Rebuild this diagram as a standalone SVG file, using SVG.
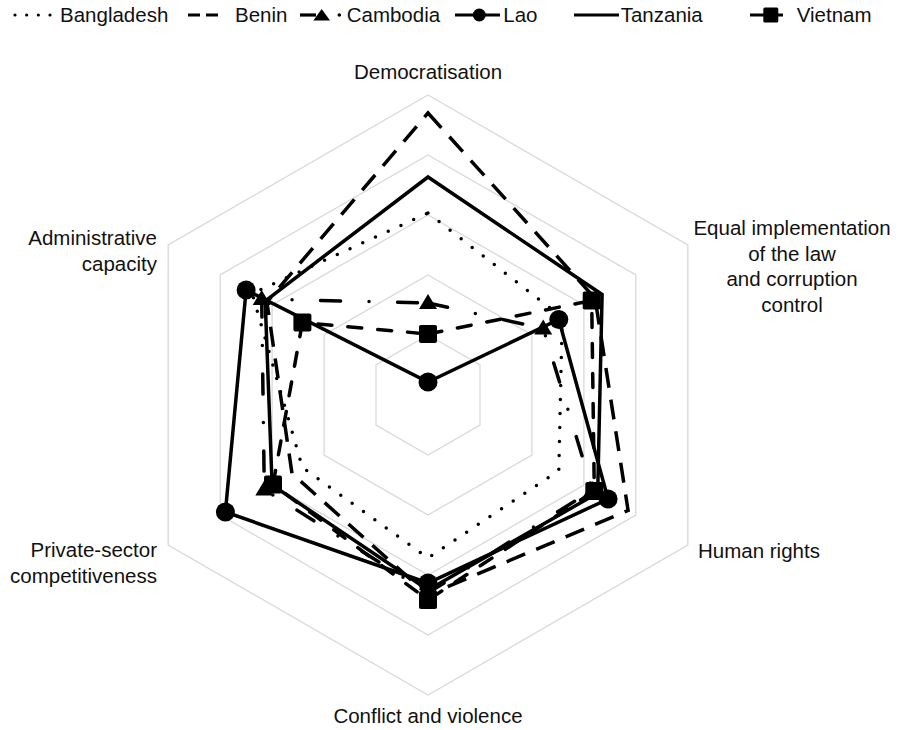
<svg xmlns="http://www.w3.org/2000/svg" xmlns:xlink="http://www.w3.org/1999/xlink" width="901" height="730" viewBox="0 0 901 730">
<style>
text{font-family:"Liberation Sans",Arial,Helvetica,sans-serif;font-size:20.5px;fill:#111}
.grid{fill:none;stroke:#d9d9d9;stroke-width:1.3}
.s{fill:none;stroke:#000;stroke-width:3.5;stroke-linejoin:miter;stroke-miterlimit:10}
.dot{stroke-dasharray:0 14;stroke-linecap:round}
.dash{stroke-dasharray:20 12}
.dashdot{stroke-dasharray:20 28.5 0 28.5;stroke-linecap:round}
.vdash{stroke-dasharray:14 16;stroke-linecap:round}
.mk{fill:#000;stroke:none}
.lg{fill:none;stroke:#000;stroke-width:3.2}
</style>
<defs>
<circle id="mc" r="9.5" class="mk"/>
<rect id="ms" x="-9" y="-9" width="18" height="18" rx="2" class="mk"/>
<path id="mt" d="M0,-9 L9,6 L-9,6 Z" class="mk"/>
</defs>
<g id="grid">
<polygon class="grid" points="428,335 480,365 480,425 428,455 376,425 376,365"/>
<polygon class="grid" points="428,275 531.9,335 531.9,455 428,515 324.1,455 324.1,335"/>
<polygon class="grid" points="428,215 583.9,305 583.9,485 428,575 272.1,485 272.1,305"/>
<polygon class="grid" points="428,155 635.8,275 635.8,515 428,635 220.2,515 220.2,275"/>
<polygon class="grid" points="428,95 687.8,245 687.8,545 428,695 168.2,545 168.2,245"/>
</g>
<g id="axis-labels">
<text x="428" y="79" text-anchor="middle">Democratisation</text>
<text x="792" y="235" text-anchor="middle">Equal implementation</text>
<text x="792" y="260.5" text-anchor="middle">of the law</text>
<text x="792" y="286" text-anchor="middle">and corruption</text>
<text x="792" y="311.5" text-anchor="middle">control</text>
<text x="698" y="558">Human rights</text>
<text x="428" y="723" text-anchor="middle">Conflict and violence</text>
<text x="157" y="557" text-anchor="end">Private-sector</text>
<text x="157" y="583" text-anchor="end">competitiveness</text>
<text x="157" y="245" text-anchor="end">Administrative</text>
<text x="157" y="270.5" text-anchor="end">capacity</text>
</g>
<g id="series">
<g id="bangladesh">
<polygon class="s dot" points="428,213 562.2,317.5 558.8,470.5 428,558 302.4,467.5 252.2,293.5"/>
</g>
<g id="benin">
<polygon class="s dash" points="428,113 595.1,298.5 628.1,510.5 428,595 292,473.5 266.9,302"/>
</g>
<g id="cambodia">
<polygon class="s dashdot" points="428,303 543.2,328.5 592.5,490 428,593 264.3,489.5 261.7,299"/>
<use xlink:href="#mt" x="428" y="303"/>
<use xlink:href="#mt" x="543.2" y="328.5"/>
<use xlink:href="#mt" x="592.5" y="490"/>
<use xlink:href="#mt" x="428" y="593"/>
<use xlink:href="#mt" x="264.3" y="489.5"/>
<use xlink:href="#mt" x="261.7" y="299"/>
</g>
<g id="lao">
<polygon class="s" points="428,382 558.8,319.5 608.1,499 428,583 225.4,512 246.1,290"/>
<use xlink:href="#mc" x="428" y="382"/>
<use xlink:href="#mc" x="558.8" y="319.5"/>
<use xlink:href="#mc" x="608.1" y="499"/>
<use xlink:href="#mc" x="428" y="583"/>
<use xlink:href="#mc" x="225.4" y="512"/>
<use xlink:href="#mc" x="246.1" y="290"/>
</g>
<g id="tanzania">
<polygon class="s" points="428,177 602.1,294.5 597.7,493 428,590 272.1,485 265.2,301"/>
</g>
<g id="vietnam">
<polygon class="s vdash" points="428,334 591.7,300.5 594.3,491 428,600 273,484.5 302.4,322.5"/>
<use xlink:href="#ms" x="428" y="334"/>
<use xlink:href="#ms" x="591.7" y="300.5"/>
<use xlink:href="#ms" x="594.3" y="491"/>
<use xlink:href="#ms" x="428" y="600"/>
<use xlink:href="#ms" x="273" y="484.5"/>
<use xlink:href="#ms" x="302.4" y="322.5"/>
</g>
</g>
<g id="legend">
<g id="legend-bangladesh">
<line class="lg" x1="15" y1="15" x2="51" y2="15" stroke-dasharray="0 11.67" stroke-linecap="round"/>
<text x="60" y="22">Bangladesh</text>
</g>
<g id="legend-benin">
<line class="lg" x1="188" y1="15" x2="220" y2="15" stroke-dasharray="12 6"/>
<text x="235" y="22">Benin</text>
</g>
<g id="legend-cambodia">
<line class="lg" x1="300" y1="15" x2="316" y2="15"/>
<path d="M321.7,9 L330,20.5 L313.4,20.5 Z" class="mk"/>
<circle cx="339.3" cy="15" r="1.8" class="mk"/>
<text x="346.7" y="22">Cambodia</text>
</g>
<g id="legend-lao">
<line class="lg" x1="455" y1="15" x2="500" y2="15"/>
<circle cx="479.3" cy="15" r="6.5" class="mk"/>
<text x="503.3" y="22">Lao</text>
</g>
<g id="legend-tanzania">
<line class="lg" x1="574" y1="15" x2="619" y2="15"/>
<text x="620.7" y="22">Tanzania</text>
</g>
<g id="legend-vietnam">
<line class="lg" x1="750" y1="15" x2="783" y2="15"/>
<rect x="763.3" y="7.5" width="15" height="15" rx="1.5" class="mk"/>
<text x="796.7" y="22">Vietnam</text>
</g>
</g>
</svg>
